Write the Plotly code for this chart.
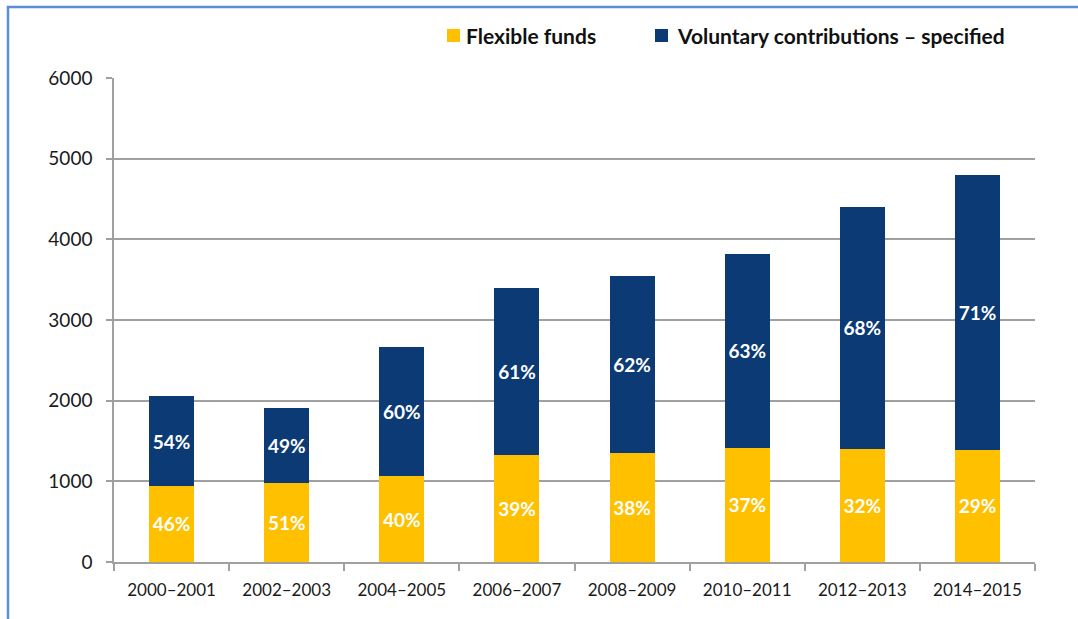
import plotly.graph_objects as go

# Biennium periods
periods = ["2000–2001", "2002–2003", "2004–2005", "2006–2007",
           "2008–2009", "2010–2011", "2012–2013", "2014–2015"]
# Total contributions per biennium
totals = [2053, 1913, 2660, 3397, 3540, 3822, 4396, 4793]
# Share of flexible funds (%) and of specified voluntary contributions (%)
flexible_pct = [46, 51, 40, 39, 38, 37, 32, 29]
specified_pct = [54, 49, 60, 61, 62, 63, 68, 71]

series_names = ["Flexible funds", "Voluntary contributions – specified"]
y_ticks = [0, 1000, 2000, 3000, 4000, 5000, 6000]

flexible = [t * p / 100 for t, p in zip(totals, flexible_pct)]
specified = [t * p / 100 for t, p in zip(totals, specified_pct)]

YELLOW = "#FFC000"
NAVY = "#0C3A74"
GRID = "#A0A0A0"
FONT = "Lato, 'Open Sans', sans-serif"
LABEL_FONT = dict(color="white", size=19, family=FONT, weight="bold")

fig = go.Figure()
for name, vals, pcts, color in [
    (series_names[0], flexible, flexible_pct, YELLOW),
    (series_names[1], specified, specified_pct, NAVY),
]:
    fig.add_trace(go.Bar(
        x=periods, y=vals, name=name,
        marker=dict(color=color, line=dict(width=0)),
        text=[f"{p}%" for p in pcts],
        textposition="inside", insidetextanchor="middle",
        textfont=LABEL_FONT,
        hoverinfo="skip",
        showlegend=False,
    ))

L, R, T, B = 114, 43, 78, 57
W, H = 1078, 619
pw, ph = W - L - R, H - T - B


def px_x(px):
    return (px - L) / pw


def px_y(py):
    return 1 + (T - py) / ph


# Legend row across the top: a swatch followed by its label
shapes = []
annotations = []
legend_row = [(447, 464, YELLOW, series_names[0]),
              (655, 675, NAVY, series_names[1])]
for sx, tx, color, label in legend_row:
    shapes.append(dict(
        type="rect", xref="paper", yref="paper",
        x0=px_x(sx), x1=px_x(sx + 13), y0=px_y(42), y1=px_y(29),
        fillcolor=color, line=dict(width=0),
    ))
    annotations.append(dict(
        xref="paper", yref="paper", x=px_x(tx), y=px_y(35),
        xanchor="left", yanchor="middle", showarrow=False,
        text=label,
        font=dict(size=21, family=FONT, weight="bold", color="#111"),
    ))

# Outer frame
shapes.append(dict(
    type="rect", xref="paper", yref="paper",
    x0=px_x(8), x1=px_x(W + 20), y0=px_y(H + 20), y1=px_y(7),
    line=dict(color="#5B8ED6", width=2.5),
    fillcolor="rgba(0,0,0,0)", layer="below",
))

fig.update_layout(
    barmode="stack",
    bargap=0.61,
    width=W, height=H,
    margin=dict(l=L, r=R, t=T, b=B),
    paper_bgcolor="white",
    plot_bgcolor="white",
    font=dict(family=FONT, color="#1a1a1a", size=17),
    uniformtext=dict(mode="show", minsize=19),
    showlegend=False,
    xaxis=dict(
        type="category",
        showgrid=False,
        showline=True, linecolor=GRID, linewidth=1.5,
        ticks="outside", tickson="boundaries", ticklen=7,
        tickcolor=GRID, tickwidth=1.5,
        tickfont=dict(size=17, family=FONT, color="#1a1a1a"),
        ticklabelstandoff=12,
    ),
    yaxis=dict(
        range=[0, 6000],
        tickvals=y_ticks,
        showgrid=True, gridcolor=GRID, gridwidth=1.5,
        showline=True, linecolor=GRID, linewidth=1.5,
        ticks="outside", ticklen=6, tickcolor=GRID, tickwidth=1.5,
        tickfont=dict(size=19, family=FONT, color="#1a1a1a"),
        ticklabelstandoff=10,
        zeroline=False,
    ),
    shapes=shapes,
    annotations=annotations,
)

fig.write_html("out.html")
